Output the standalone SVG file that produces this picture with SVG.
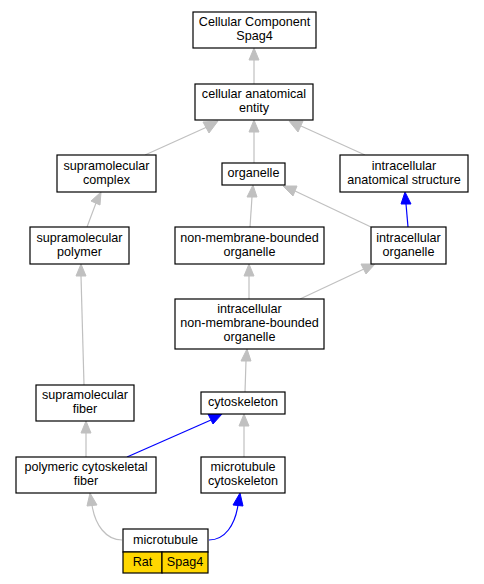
<svg xmlns="http://www.w3.org/2000/svg" width="484" height="584" viewBox="0 0 484 584">
<style>
.n rect{fill:#fff;stroke:#000;stroke-width:1.2}
.n rect.y{fill:#ffd700;stroke:#000;stroke-width:1.2}
.n text{font-family:"Liberation Sans",Arial,sans-serif;font-size:12.6px;text-anchor:middle;fill:#000}
.g{fill:none;stroke:#c0c0c0;stroke-width:1.2}
.b{fill:none;stroke:#0000ff;stroke-width:1.2}
.ga{fill:#c0c0c0;stroke:#c0c0c0}
.ba{fill:#0000ff;stroke:#0000ff}
</style>
<rect width="484" height="584" fill="#fff"/>
<g id="edges">
<path class="g" d="M254,84V60"/><polygon class="ga" points="254,48 249,60 259,60"/>
<path class="g" d="M145,155L207,127"/><polygon class="ga" points="218,121 203,122 209,133"/>
<path class="g" d="M254,163V132"/><polygon class="ga" points="254,120 249,132 259,132"/>
<path class="g" d="M365,155L301,126"/><polygon class="ga" points="289,121 298,132 303,121"/>
<path class="g" d="M87,227L96,203"/><polygon class="ga" points="101,192 91,201 100,205"/>
<path class="g" d="M250,227L252,197"/><polygon class="ga" points="253,185 247,197 257,197"/>
<path class="g" d="M371,227L295,191"/><polygon class="ga" points="283,186 293,196 297,186"/>
<path class="b" d="M408,227L406,204"/><polygon class="ba" points="405,192 401,204 411,204"/>
<path class="g" d="M249,299V276"/><polygon class="ga" points="249,264 244,276 254,276"/>
<path class="g" d="M300,299L364,269"/><polygon class="ga" points="375,264 361,264 366,274"/>
<path class="g" d="M84,385L81,276"/><polygon class="ga" points="81,264 76,276 86,276"/>
<path class="g" d="M245,392L246,361"/><polygon class="ga" points="247,349 241,361 251,361"/>
<path class="g" d="M86,457V433"/><polygon class="ga" points="86,421 81,433 91,433"/>
<path class="b" d="M127,457L211,420"/><polygon class="ba" points="222,414 208,414 213,424"/>
<path class="g" d="M244,457V426"/><polygon class="ga" points="244,414 239,426 249,426"/>
<path class="g" d="M122,540C106,540 95,525 92,505"/><polygon class="ga" points="90,493 87,506 97,505"/>
<path class="b" d="M209,540C225,540 235,525 238,505"/><polygon class="ba" points="240,493 233,505 243,506"/>
</g>
<g id="n1" class="n"><rect x="193" y="12" width="123" height="36"/><text x="254.5" y="26.3">Cellular Component</text><text x="254.5" y="40.3">Spag4</text></g>
<g id="n2" class="n"><rect x="195" y="84" width="118" height="36"/><text x="254" y="98.3">cellular anatomical</text><text x="254" y="112.3">entity</text></g>
<g id="n3" class="n"><rect x="57" y="155" width="99" height="37"/><text x="106.5" y="169.7">supramolecular</text><text x="106.5" y="183.7">complex</text></g>
<g id="n4" class="n"><rect x="222" y="163" width="63" height="22"/><text x="253.5" y="177.3">organelle</text></g>
<g id="n5" class="n"><rect x="340" y="155" width="128" height="37"/><text x="404" y="169.7">intracellular</text><text x="404" y="183.7">anatomical structure</text></g>
<g id="n6" class="n"><rect x="30" y="227" width="99" height="37"/><text x="79.5" y="241.7">supramolecular</text><text x="79.5" y="255.7">polymer</text></g>
<g id="n7" class="n"><rect x="175" y="227" width="149" height="37"/><text x="249.5" y="241.7">non-membrane-bounded</text><text x="249.5" y="255.7">organelle</text></g>
<g id="n8" class="n"><rect x="371" y="227" width="75" height="37"/><text x="408.5" y="241.7">intracellular</text><text x="408.5" y="255.7">organelle</text></g>
<g id="n9" class="n"><rect x="175" y="299" width="149" height="50"/><text x="249.5" y="312.8">intracellular</text><text x="249.5" y="326.8">non-membrane-bounded</text><text x="249.5" y="340.8">organelle</text></g>
<g id="n10" class="n"><rect x="36" y="385" width="98" height="36"/><text x="85" y="399.3">supramolecular</text><text x="85" y="413.3">fiber</text></g>
<g id="n11" class="n"><rect x="201" y="392" width="84" height="22"/><text x="243" y="406.3">cytoskeleton</text></g>
<g id="n12" class="n"><rect x="16" y="457" width="140" height="36"/><text x="86" y="471.3">polymeric cytoskeletal</text><text x="86" y="485.3">fiber</text></g>
<g id="n13" class="n"><rect x="201" y="457" width="84" height="36"/><text x="243" y="471.3">microtubule</text><text x="243" y="485.3">cytoskeleton</text></g>
<g id="n14" class="n"><rect x="123" y="529" width="85" height="23"/><rect class="y" x="123" y="552" width="39" height="21"/><rect class="y" x="162" y="552" width="46" height="21"/><text x="165.5" y="543.5">microtubule</text><text x="142.5" y="566">Rat</text><text x="185" y="566">Spag4</text></g>
</svg>
